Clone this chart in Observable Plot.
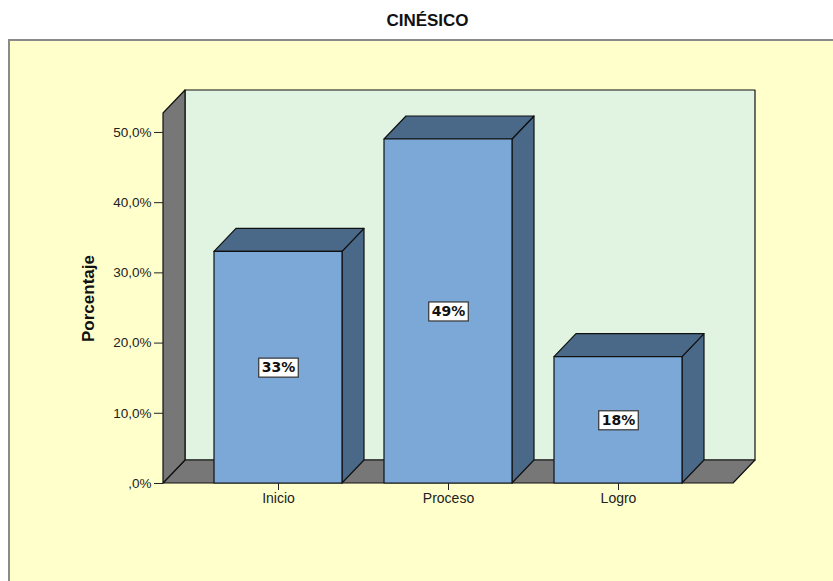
<!DOCTYPE html>
<html>
<head>
<meta charset="utf-8">
<script src="https://cdn.jsdelivr.net/npm/d3@7"></script>
<script src="https://cdn.jsdelivr.net/npm/@observablehq/plot@0.6"></script>
<style>
  body { margin: 0; background: #ffffff; width: 833px; height: 581px; overflow: hidden; position: relative; font-family: "Liberation Sans", Arial, sans-serif; }
  #title { position: absolute; left: 0; top: 0; width: 855px; height: 39px; text-align: center; font-weight: bold; font-size: 17px; line-height: 42px; color: #111; }
  #panel { position: absolute; left: 8px; top: 39px; right: -4px; bottom: -4px; background: #FFFFCC; border: 2px solid #8a8a8a; }
  #chart { position: absolute; left: 0; top: 39px; }
</style>
</head>
<body>
<div id="title">CINÉSICO</div>
<div id="panel"></div>
<div id="chart"></div>
<script>
const categories = ["Inicio", "Proceso", "Logro"];
const values = [33, 49, 18];
const labels = ["33%", "49%", "18%"];
const yTicks = [0, 10, 20, 30, 40, 50];

const data = categories.map((c, i) => ({cat: c, value: values[i], label: labels[i]}));

const DX = 22, DY = -23;
const frontFill = "#7BA8D6", darkFill = "#4A6989", grey = "#777777", wall = "#E1F4E1";

function poly(points, fill) {
  const p = document.createElementNS("http://www.w3.org/2000/svg", "polygon");
  p.setAttribute("points", points.map(q => q.join(",")).join(" "));
  p.setAttribute("fill", fill);
  p.setAttribute("stroke", "#111");
  p.setAttribute("stroke-width", "1.2");
  p.setAttribute("stroke-linejoin", "round");
  return p;
}

// walls and floor
function walls(index, scales, values_, dims) {
  const g = document.createElementNS("http://www.w3.org/2000/svg", "g");
  const x0 = dims.marginLeft, x1 = dims.width - dims.marginRight;
  const yb = scales.y(0), yt = scales.y(52.7);
  g.appendChild(poly([[x0 + DX, yt + DY], [x1 + DX, yt + DY], [x1 + DX, yb + DY], [x0 + DX, yb + DY]], wall));
  g.appendChild(poly([[x0, yb], [x0 + DX, yb + DY], [x1 + DX, yb + DY], [x1, yb]], grey));
  g.appendChild(poly([[x0, yt], [x0 + DX, yt + DY], [x0 + DX, yb + DY], [x0, yb]], grey));
  return g;
}

function bars3d(index, scales) {
  const g = document.createElementNS("http://www.w3.org/2000/svg", "g");
  const bwRaw = scales.x.bandwidth;
  const bw = +(typeof bwRaw === "function" ? bwRaw.call(scales.x) : bwRaw);
  const yb = scales.y(0);
  for (const d of data) {
    const xl = +scales.x(d.cat), xr = xl + bw, yt = scales.y(d.value);
    g.appendChild(poly([[xr, yt], [xr + DX, yt + DY], [xr + DX, yb + DY], [xr, yb]], darkFill));
    g.appendChild(poly([[xl, yt], [xl + DX, yt + DY], [xr + DX, yt + DY], [xr, yt]], darkFill));
    g.appendChild(poly([[xl, yt], [xr, yt], [xr, yb], [xl, yb]], frontFill));
  }
  return g;
}

const fmt = d => d === 0 ? ",0%" : d.toFixed(1).replace(".", ",") + "%";

const chart = Plot.plot({
  width: 833,
  height: 542,
  marginLeft: 163,
  marginRight: 100,
  marginTop: 74,
  marginBottom: 98,
  style: {background: "transparent", fontFamily: "Liberation Sans, Arial, sans-serif", fontSize: "12px", color: "#222"},
  x: {type: "band", domain: categories, paddingInner: 0.25, paddingOuter: 0.2924, label: null, tickSize: 7, tickPadding: 3},
  y: {domain: [0, 52.7], ticks: yTicks, tickFormat: fmt, tickSize: 9, tickPadding: 3, label: null},
  marks: [
    walls,
    bars3d,
    Plot.axisY({ticks: yTicks, tickFormat: fmt, tickSize: 9, tickPadding: 3, label: null, fontSize: 13.5}),
    Plot.axisX({tickSize: 7, tickPadding: 3, label: null, fontSize: 14}),
    Plot.text(["Porcentaje"], {frameAnchor: "left", textAnchor: "middle", dx: -75, rotate: -90, fontWeight: "bold", fontSize: 17, fill: "#111"}),
    Plot.text(data, {x: "cat", y: d => d.value / 2, text: "label", fontFamily: "DejaVu Sans", fontWeight: "bold", fontSize: 14, fill: "#111"}),
  ]
});

document.getElementById("chart").appendChild(chart);
// white label boxes behind the value labels
const groups = chart.querySelectorAll("g[aria-label='text']");
const grp = groups[groups.length - 1];
grp.querySelectorAll("text").forEach(t => {
  const b = t.getBBox();
  const r = document.createElementNS("http://www.w3.org/2000/svg", "rect");
  r.setAttribute("x", b.x - 3); r.setAttribute("y", b.y - 1);
  r.setAttribute("width", b.width + 6); r.setAttribute("height", b.height + 3);
  r.setAttribute("fill", "#fff"); r.setAttribute("stroke", "#333"); r.setAttribute("stroke-width", "1.2");
  const tr = t.getAttribute("transform");
  if (tr) r.setAttribute("transform", tr);
  t.parentNode.insertBefore(r, t);
});
</script>
</body>
</html>
